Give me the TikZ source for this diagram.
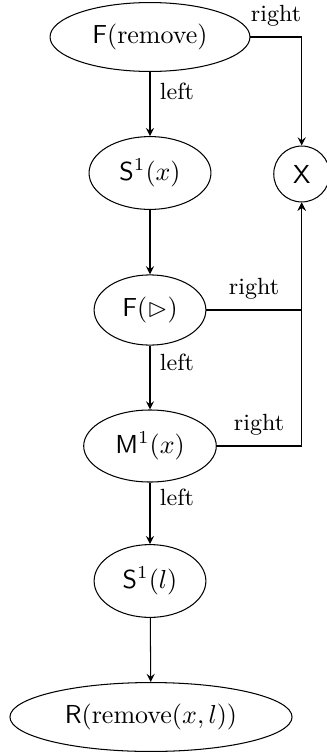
\documentclass[tikz,border=0pt]{standalone}
\usepackage{amssymb}
\usetikzlibrary{shapes.geometric,arrows}
\begin{document}
\begin{tikzpicture}[x=0.3846pt,y=-0.3846pt,
  ell/.style={draw,ellipse,inner sep=0pt,line width=0.4pt},
  circ/.style={draw,circle,inner sep=0pt,line width=0.4pt},
  lab/.style={font=\small,inner sep=0pt},
  conn/.style={-stealth,line width=0.4pt}]
\useasboundingbox (0,0) rectangle (327,756);
\node[ell,minimum width=76.9pt,minimum height=26.5pt] (fr) at (150,37) {$\mathsf{F}(\mathrm{remove})$};
\node[ell,minimum width=46.9pt,minimum height=28pt] (sx) at (150,173) {$\mathsf{S}^1(x)$};
\node[circ,minimum size=21.5pt] (X) at (301.7,174) {$\mathsf{X}$};
\node[ell,minimum width=43pt,minimum height=27pt] (ft) at (150,310) {$\mathsf{F}(\rhd)$};
\node[ell,minimum width=51pt,minimum height=27.7pt] (mx) at (150,446) {$\mathsf{M}^1(x)$};
\node[ell,minimum width=43pt,minimum height=28pt] (sl) at (150,581) {$\mathsf{S}^1(l)$};
\node[ell,minimum width=108.5pt,minimum height=26.5pt] (r) at (151,717) {$\mathsf{R}(\mathrm{remove}(x,l))$};
\node[lab] (l1) at (177,91) {left};
\node[lab] (l2) at (177,362) {left};
\node[lab] (l3) at (177,497) {left};
\node[lab] (r1) at (276,16) {right};
\node[lab] (r2) at (254,289) {right};
\node[lab] (r3) at (259,425) {right};
\draw[conn] (fr) -- (sx);
\draw[conn] (fr.east) -| (X.north);
\draw[conn] (sx) -- (ft);
\draw[conn] (ft.east) -| (X.south);
\draw[conn] (ft) -- (mx);
\draw[conn] (mx.east) -| (X.south);
\draw[conn] (mx) -- (sl);
\draw[conn] (sl) -- (r);
\end{tikzpicture}
\end{document}
